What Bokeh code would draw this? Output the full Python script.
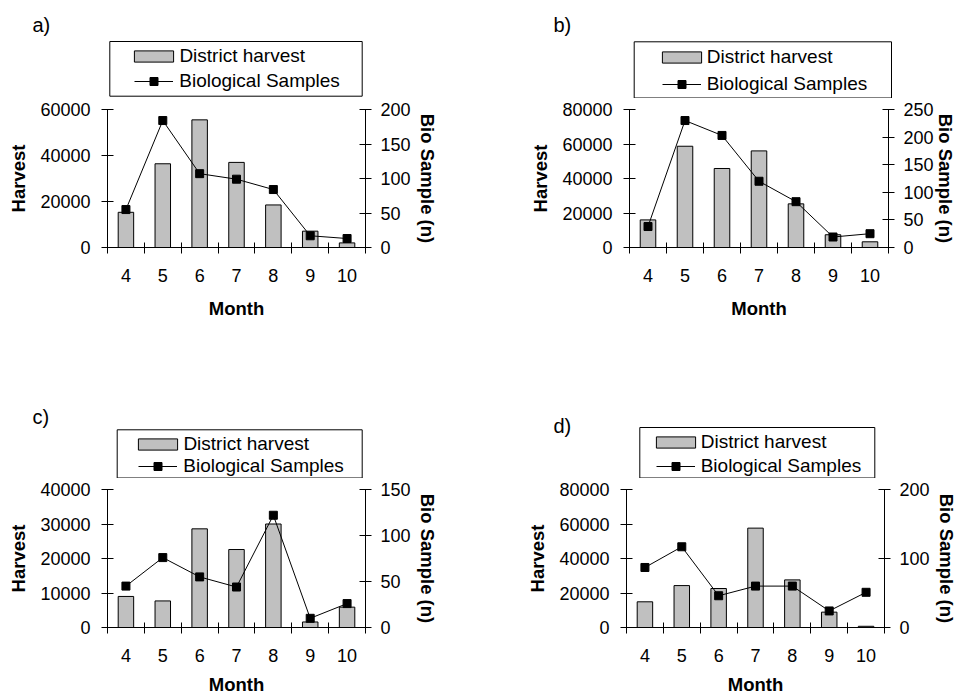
from bokeh.plotting import figure
from bokeh.models import (Range1d, LinearAxis, FixedTicker, NumeralTickFormatter,
                          Legend, LegendItem, BoxAnnotation, Label)
from bokeh.layouts import column, row
from bokeh.embed import file_html
from bokeh.resources import INLINE

# ---------------- data ----------------
months = [4, 5, 6, 7, 8, 9, 10]

harvest_a = [15300, 36400, 55500, 37000, 18500, 7100, 2000]
bio_a = [55, 184, 107, 99, 84, 17, 13]

harvest_b = [16000, 58700, 45800, 56000, 25300, 7400, 3300]
bio_b = [38, 230, 203, 120, 83, 19, 25]

harvest_c = [9000, 7700, 28600, 22600, 30000, 1600, 5900]
bio_c = [45, 76, 55, 44, 122, 10, 26]

harvest_d = [14900, 24300, 22600, 57600, 27600, 8900, 700]
bio_d = [87, 117, 46, 60, 60, 24, 51]

harvest_ticks_a = [0, 20000, 40000, 60000]
bio_ticks_a = [0, 50, 100, 150, 200]
harvest_ticks_b = [0, 20000, 40000, 60000, 80000]
bio_ticks_b = [0, 50, 100, 150, 200, 250]
harvest_ticks_c = [0, 10000, 20000, 30000, 40000]
bio_ticks_c = [0, 50, 100, 150]
harvest_ticks_d = [0, 20000, 40000, 60000, 80000]
bio_ticks_d = [0, 100, 200]

bar_label = "District harvest"
line_label = "Biological Samples"
x_title = "Month"
y_title = "Harvest"
y2_title = "Bio Sample (n)"

FONT = "Liberation Sans"
W = 480
BAR_FILL = "#C0C0C0"


def style_axis(ax):
    ax.axis_line_color = "black"
    ax.axis_line_width = 1
    ax.major_tick_line_color = "black"
    ax.major_tick_in = 6
    ax.major_tick_out = 6
    ax.minor_tick_line_color = None
    ax.major_label_text_font = FONT
    ax.major_label_text_font_size = "18px"
    ax.major_label_text_color = "black"
    ax.axis_label_text_font = FONT
    ax.axis_label_text_font_size = "18.5px"
    ax.axis_label_text_font_style = "bold"
    ax.axis_label_text_color = "black"


def make_legend_fig(tag, harvest, bio, g):
    """Top strip holding the panel tag and the legend (frame = whole strip)."""
    ox, oy = g["offset"]
    hL = g["legend_h"]
    lf = figure(width=W, height=hL, x_range=Range1d(0, 1), y_range=Range1d(0, 1),
                min_border=0, min_border_left=0, min_border_right=0,
                min_border_top=0, min_border_bottom=0,
                x_axis_location=None, y_axis_location=None,
                output_backend="svg", toolbar_location=None, tools="")
    lf.frame_align = False
    lf.outline_line_color = None
    lf.grid.visible = False
    lf.background_fill_color = "white"
    lf.border_fill_color = "white"

    # same series as the chart, lying outside this strip's ranges: only their
    # legend glyphs are visible here
    bars = lf.vbar(x=months, top=harvest, width=0.42, fill_color=BAR_FILL,
                   line_color="black", line_width=1)
    ln = lf.line(x=months, y=bio, line_color="black", line_width=1)
    sc = lf.scatter(x=months, y=bio, marker="square", size=8,
                    fill_color="black", line_color="black")

    fleft = ox
    fbottom = oy + hL
    gs = g["glyph_start"]
    r1, r2 = g["rows"]
    lh = 22
    leg1 = Legend(items=[LegendItem(label=bar_label, renderers=[bars])],
                  location=(gs - 4.9 - fleft, fbottom - r1 - lh / 2),
                  glyph_width=49, glyph_height=14, label_height=lh,
                  label_standoff=1, padding=0, margin=0, spacing=0,
                  border_line_color=None, background_fill_alpha=0,
                  label_text_font=FONT, label_text_font_size="19px",
                  label_text_color="black")
    leg2 = Legend(items=[LegendItem(label=line_label, renderers=[ln, sc])],
                  location=(gs - fleft, fbottom - r2 - lh / 2),
                  glyph_width=39, glyph_height=20, label_height=lh,
                  label_standoff=6, padding=0, margin=0, spacing=0,
                  border_line_color=None, background_fill_alpha=0,
                  label_text_font=FONT, label_text_font_size="19px",
                  label_text_color="black")
    lf.add_layout(leg1)
    lf.add_layout(leg2)

    bx0, bx1, by0, by1 = g["box"]
    lf.add_layout(BoxAnnotation(left=bx0 - fleft, right=bx1 - fleft,
                                top=fbottom - by0, bottom=fbottom - by1,
                                left_units="screen", right_units="screen",
                                top_units="screen", bottom_units="screen",
                                fill_color=None, line_color="black",
                                line_width=1, line_alpha=1))

    tx, ty = g["tag"]
    lf.add_layout(Label(x=tx - fleft, y=fbottom - ty, x_units="screen", y_units="screen",
                        text=tag, text_font=FONT, text_font_size="20px",
                        text_color="black", text_baseline="alphabetic",
                        text_align="left"))
    return lf


def make_chart(harvest, bio, h_ticks, b_ticks, g):
    fl, fw, ft, fh = g["frame"]          # frame left/width/top/height inside chart fig
    Hc = g["chart_h"]
    p = figure(width=W, height=Hc, x_range=Range1d(3.5, 10.5),
               y_range=Range1d(0, h_ticks[-1]),
               min_border_left=fl, min_border_right=W - fl - fw,
               min_border_top=ft, min_border_bottom=Hc - ft - fh,
               output_backend="svg", toolbar_location=None, tools="")
    p.frame_align = False
    p.extra_y_ranges = {"bio": Range1d(0, b_ticks[-1])}
    p.outline_line_color = None
    p.grid.visible = False
    p.background_fill_color = "white"
    p.border_fill_color = "white"

    xa = p.xaxis[0]
    style_axis(xa)
    edges = [m - 0.5 for m in months] + [months[-1] + 0.5]
    xa.ticker = FixedTicker(ticks=months, minor_ticks=edges)
    xa.major_tick_line_color = None
    xa.major_tick_in = 0
    xa.major_tick_out = 0
    xa.minor_tick_line_color = "black"
    xa.minor_tick_in = 5
    xa.minor_tick_out = 6
    xa.major_label_standoff = 15
    xa.axis_label = x_title
    xa.axis_label_standoff = g["x_title_standoff"]

    ya = p.yaxis[0]
    style_axis(ya)
    ya.ticker = FixedTicker(ticks=h_ticks)
    ya.formatter = NumeralTickFormatter(format="0")
    ya.major_label_standoff = 11
    ya.axis_label = y_title
    ya.axis_label_standoff = 8

    ra = LinearAxis(y_range_name="bio", ticker=FixedTicker(ticks=b_ticks),
                    formatter=NumeralTickFormatter(format="0"))
    style_axis(ra)
    ra.major_label_standoff = 9
    ra.axis_label = y2_title
    ra.axis_label_standoff = g["r_standoff"]
    p.add_layout(ra, "right")

    p.vbar(x=months, top=harvest, width=0.42, fill_color=BAR_FILL,
           line_color="black", line_width=1)
    p.line(months, bio, y_range_name="bio", line_color="black", line_width=1)
    p.scatter(months, bio, y_range_name="bio", marker="square", size=8,
              fill_color="black", line_color="black")
    return p


def make_panel(tag, harvest, bio, h_ticks, b_ticks, g):
    return column(make_legend_fig(tag, harvest, bio, g),
                  make_chart(harvest, bio, h_ticks, b_ticks, g))


# layout geometry (canvas pixels)
geom_a = dict(offset=(0, 0), legend_h=98, chart_h=251, frame=(107, 258, 11, 138),
              r_standoff=3, x_title_standoff=13,
              glyph_start=134.3, rows=(55.5, 81), box=(109.3, 361.7, 41, 95.7), tag=(32, 24))
geom_b = dict(offset=(480, 0), legend_h=98, chart_h=251, frame=(149, 259, 11, 138),
              r_standoff=-2, x_title_standoff=13,
              glyph_start=661.7, rows=(57, 84), box=(633.7, 891, 41.3, 97.5), tag=(553, 24))
geom_c = dict(offset=(0, 349), legend_h=129, chart_h=220, frame=(107, 258, 11, 138),
              r_standoff=3, x_title_standoff=9,
              glyph_start=138.3, rows=(443.5, 466.3), box=(116.7, 361.7, 429.3, 477.5), tag=(32, 416))
geom_d = dict(offset=(480, 349), legend_h=129, chart_h=220, frame=(146, 258, 11, 138),
              r_standoff=3, x_title_standoff=9,
              glyph_start=655.7, rows=(441.5, 466), box=(639.3, 874.3, 427, 477.5), tag=(553, 425))

pa = make_panel("a)", harvest_a, bio_a, harvest_ticks_a, bio_ticks_a, geom_a)
pb = make_panel("b)", harvest_b, bio_b, harvest_ticks_b, bio_ticks_b, geom_b)
pc = make_panel("c)", harvest_c, bio_c, harvest_ticks_c, bio_ticks_c, geom_c)
pd = make_panel("d)", harvest_d, bio_d, harvest_ticks_d, bio_ticks_d, geom_d)

layout = column(row(pa, pb), row(pc, pd))
open("out.html", "w").write(file_html(layout, INLINE))
